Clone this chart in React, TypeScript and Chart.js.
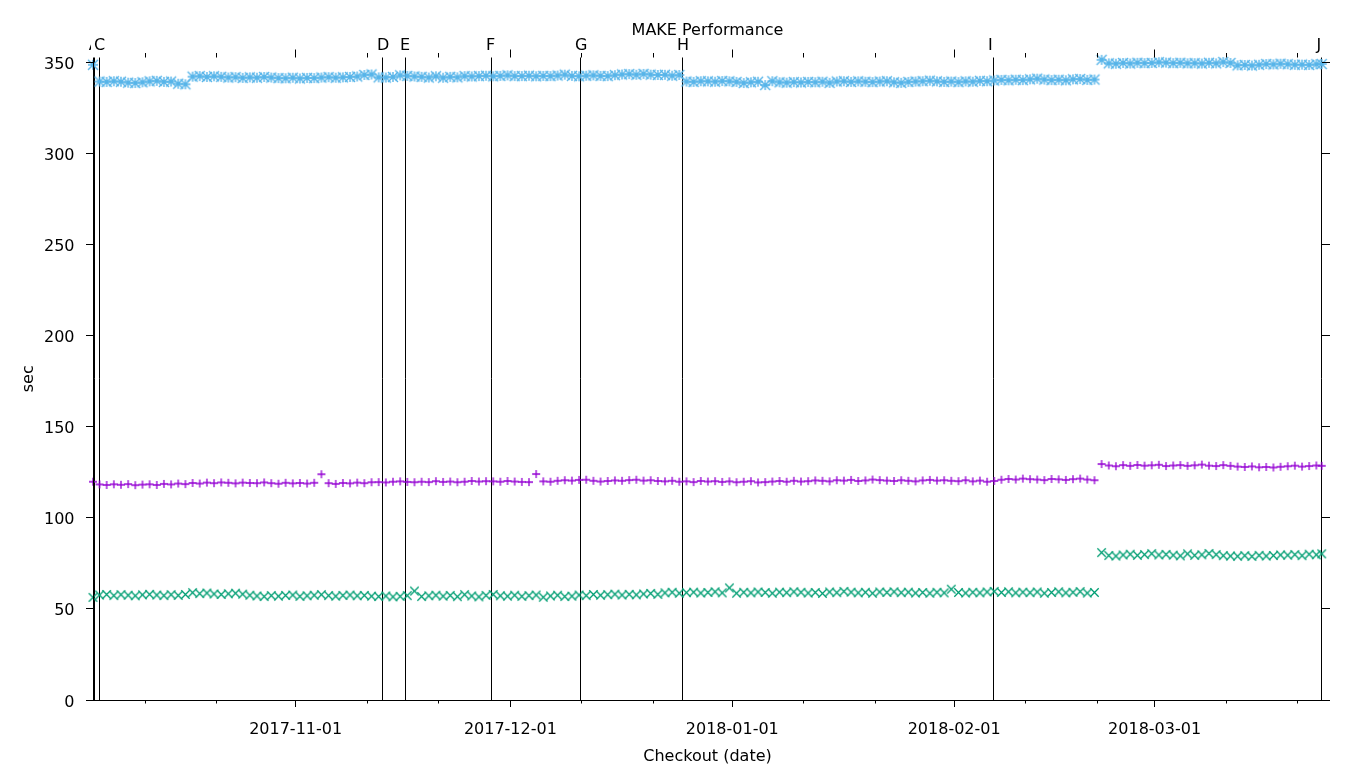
import React, { useEffect, useRef } from "react";
import { Chart, registerables } from "chart.js";

Chart.register(...registerables);

// ---------- text ----------
const TITLE = "MAKE Performance";
const X_TITLE = "Checkout (date)";
const Y_TITLE = "sec";
const FONT = '16px "DejaVu Sans"';

// ---------- axes ----------
const EPOCH = Date.UTC(2017, 9, 1); // day 0 = 2017-10-01
const X_MIN = 2.69; // first checkout (day offset)
const X_MAX = 174.39; // last checkout (day offset)
const Y_MIN = 0;
const Y_MAX = 352.6;
const yTickValues = [0, 50, 100, 150, 200, 250, 300, 350];
const majorTickDates = ["2017-11-01", "2017-12-01", "2018-01-01", "2018-02-01", "2018-03-01"];
const minorTickDates = [
  "2017-10-11", "2017-10-21", "2017-11-11", "2017-11-21", "2017-12-11", "2017-12-21",
  "2018-01-11", "2018-01-21", "2018-02-11", "2018-02-21", "2018-03-11", "2018-03-21",
];

// ---------- release markers ----------
const releaseLabels = ["A", "C", "D", "E", "F", "G", "H", "I", "J"];
const releaseDays = [2.83, 3.57, 43.11, 46.32, 58.34, 70.77, 85.02, 128.47, 174.35];

// ---------- checkouts ----------
const firstCheckoutDay = 2.69;
const dailyStartDay = 3.6;
const lastCheckoutDay = 174.35;

// values: first checkout, 171 daily checkouts, last checkout
const seriesBlue = [
  348.6,
  339.4, 339.2, 339.6, 339.3,
  338.8, 338.6, 339.0,
  339.5, 339.8, 339.2, 339.4,
  338.2, 337.9,
  342.1, 342.4, 341.9, 342.3, 342.0,
  341.6, 341.8, 341.4, 341.7, 341.5, 341.9, 341.6,
  341.3, 341.2, 341.5, 341.1, 341.4, 341.3,
  341.6, 341.8, 341.5, 341.7, 341.9, 342.2,
  343.0, 343.3,
  341.7, 341.6, 341.9, 342.8,
  342.5, 342.2, 342.0, 341.6, 342.3,
  341.5, 342.0, 341.7, 342.4, 342.2,
  342.4, 342.6, 342.3, 342.5, 342.8, 342.4,
  342.4, 342.6, 342.3, 342.5, 342.4, 342.7, 343.2, 342.5,
  342.3, 342.6, 342.8, 342.5, 342.4, 342.9,
  343.3, 343.5, 343.1, 343.6, 343.2, 343.0,
  343.1, 342.6, 343.0,
  339.4, 339.2, 339.6, 339.5, 339.3, 339.7, 339.5,
  339.2, 338.6, 339.0, 339.3, 337.5, 339.6,
  339.0, 338.8, 339.1, 338.9, 339.2, 339.0, 339.3, 338.7,
  339.4, 339.6, 339.2, 339.5, 339.3, 339.1, 339.4, 339.6, 339.0,
  338.7, 339.2, 339.4, 339.6, 339.9, 339.5, 339.2, 339.4,
  339.1, 339.5, 339.3, 339.8, 339.6, 340.0,
  340.3, 340.1, 340.4, 340.2, 340.6, 341.0,
  340.5, 340.2, 340.4, 340.1, 340.6, 340.8, 340.3, 340.5,
  351.3,
  349.4, 349.2, 349.6, 349.3, 349.7, 349.5,
  349.6, 350.0, 349.8, 349.5, 349.7, 349.4,
  349.5, 349.3, 349.7, 349.4, 350.1, 349.6,
  348.3, 348.5, 348.2, 348.6,
  349.0, 348.8, 349.2, 348.9, 348.6,
  348.7, 348.5, 348.9,
  349.0,
];

const seriesPurple = [
  119.8,
  118.3, 118.0, 118.4, 118.1, 118.5, 117.9, 118.2, 118.4, 118.0, 118.6, 118.3, 118.8,
  118.5, 119.1, 118.8, 119.3, 119.0, 119.4, 119.2, 118.9, 119.3, 119.1, 119.0, 119.4,
  119.0, 118.7, 119.2, 118.9, 119.1, 118.8, 119.2,
  123.9,
  119.0, 118.6, 119.1, 118.9, 119.3, 119.0, 119.5,
  119.6, 119.4, 119.8, 120.0, 119.7, 119.5,
  119.8, 119.6, 120.1, 119.7, 119.9, 119.5, 119.8, 120.2, 119.9, 120.1,
  120.0, 119.8, 120.2, 119.9, 119.7, 119.6,
  124.0,
  120.0, 119.8, 120.3, 120.6, 120.4, 120.8,
  120.9, 120.3, 119.9, 120.2, 120.5, 120.3, 120.7, 120.9, 120.4, 120.6, 120.2, 120.0, 120.3,
  119.8, 120.0, 119.6, 120.2, 119.9, 120.1, 119.7, 120.0, 119.5, 119.8,
  120.1, 119.4, 119.6, 119.9, 120.2, 119.8, 120.3, 119.9, 120.1, 120.5,
  120.3, 120.0, 120.6, 120.4, 120.8, 120.2, 120.5, 121.0, 120.7, 120.4,
  120.2, 120.6, 120.3, 120.0, 120.5, 120.8, 120.4, 120.6, 120.3, 120.1,
  120.6, 120.0, 120.4, 119.8, 120.2, 120.9, 121.3, 121.0, 121.5, 121.2,
  121.0, 120.7, 121.3, 121.1, 120.8, 121.2, 121.5, 121.0, 120.6,
  129.5,
  128.7, 128.3, 128.9, 128.5, 129.0, 128.6, 128.8, 129.1, 128.4, 128.7, 128.9, 128.5,
  128.8, 129.2, 128.6, 128.4, 128.9, 128.5,
  128.1, 127.9, 128.2, 127.7, 127.9, 127.6, 128.0,
  128.3, 128.6, 128.1, 128.4, 128.7,
  128.5,
];

const seriesGreen = [
  56.3,
  57.6, 57.9, 57.3, 57.8, 57.5, 57.2, 57.7, 58.0, 57.6, 57.3, 57.8, 57.4, 57.9,
  58.9, 58.4, 58.7, 58.2, 57.9, 58.3, 58.6, 58.1,
  57.5, 57.1, 56.8, 57.3, 57.0, 57.4, 57.6, 56.9, 57.2, 57.5,
  57.8, 57.3, 57.0, 57.4, 57.6, 57.2, 57.4, 57.0, 56.8,
  57.1, 56.6, 56.9, 57.3, 59.8, 56.8, 57.2, 57.5, 57.0,
  57.4, 56.7, 57.8, 57.1, 56.6, 57.4, 57.9, 57.2, 57.0, 57.5,
  56.9, 57.3, 57.6, 56.4, 57.1, 57.5, 56.8, 57.0, 57.6,
  57.3, 57.9, 57.5, 57.8, 58.1, 57.6, 58.0, 57.7,
  58.2, 58.5, 58.0, 58.8, 59.1, 58.6,
  58.9, 59.2, 58.7, 59.0, 59.4, 58.8, 61.5, 58.6, 59.1,
  58.8, 59.3, 59.0, 58.6, 59.2, 58.9, 59.4, 59.1, 58.7, 59.0,
  58.5, 59.3, 58.9, 59.6, 59.2, 58.8, 59.1, 58.6, 59.3, 59.0,
  59.4, 58.9, 59.2, 58.7, 59.0, 58.6, 59.1, 58.8, 60.8, 59.0,
  58.7, 59.1, 58.8, 59.3, 59.6, 59.0, 59.4, 58.8, 59.2, 58.9,
  59.3, 58.6, 59.0, 59.4, 58.8, 59.1, 59.5, 58.7, 59.0,
  80.9,
  79.3, 79.0, 79.6, 80.0, 79.4, 79.8, 80.3, 79.6, 79.9, 79.5,
  79.1, 80.2, 79.4, 79.7, 80.4, 79.8, 79.2, 79.0,
  78.9, 79.2, 78.8, 79.4, 79.0, 79.3, 79.6,
  79.5, 79.8, 79.2, 80.0, 79.7,
  80.2,
];

const dayOf = (s: string) => (Date.parse(s + "T00:00:00Z") - EPOCH) / 86400000;

// x of each checkout: first, consecutive days, last
const checkoutDays: number[] = [firstCheckoutDay];
for (let i = 0; i < seriesBlue.length - 2; i++) checkoutDays.push(dailyStartDay + i);
checkoutDays.push(lastCheckoutDay);

const toPoints = (vals: number[]) => vals.map((v, i) => ({ x: checkoutDays[i], y: v }));

const crisp = (v: number) => Math.floor(v) + 0.5;

// gnuplot-like point glyphs drawn on small canvases
function makeMarker(kind: "plus" | "cross" | "star", color: string, half: number, lw: number) {
  const size = Math.ceil(half * 2 + 4);
  const c = document.createElement("canvas");
  c.width = size;
  c.height = size;
  const g = c.getContext("2d")!;
  const m = size / 2;
  g.strokeStyle = color;
  g.lineWidth = lw;
  g.lineCap = "butt";
  g.beginPath();
  if (kind === "plus" || kind === "star") {
    g.moveTo(m - half, m);
    g.lineTo(m + half, m);
    g.moveTo(m, m - half);
    g.lineTo(m, m + half);
  }
  if (kind === "cross" || kind === "star") {
    g.moveTo(m - half, m - half);
    g.lineTo(m + half, m + half);
    g.moveTo(m - half, m + half);
    g.lineTo(m + half, m - half);
  }
  g.stroke();
  return c;
}

const decoPlugin = {
  id: "gnuplotDeco",
  beforeDatasetsDraw(chart: any) {
    const { ctx, chartArea, scales } = chart;
    ctx.save();
    ctx.strokeStyle = "#000";
    ctx.lineWidth = 1;
    releaseDays.forEach((d) => {
      const px = crisp(scales.x.getPixelForValue(d));
      ctx.beginPath();
      ctx.moveTo(px, chartArea.top);
      ctx.lineTo(px, chartArea.bottom);
      ctx.stroke();
    });
    ctx.restore();
  },
  afterDraw(chart: any) {
    const { ctx, chartArea, scales } = chart;
    const { left, right, top, bottom } = chartArea;
    const xs = scales.x;
    const ys = scales.y;
    ctx.save();
    ctx.strokeStyle = "#000";
    ctx.fillStyle = "#000";
    ctx.lineWidth = 1;
    ctx.font = FONT;

    // release labels (opaque boxes)
    ctx.textAlign = "left";
    ctx.textBaseline = "alphabetic";
    releaseLabels.forEach((lab, i) => {
      const px = xs.getPixelForValue(releaseDays[i]);
      const tx = px - 5.3;
      const w = ctx.measureText(lab).width;
      ctx.fillStyle = "#fff";
      ctx.fillRect(tx - 3, 36, w + 6, 16);
      ctx.fillStyle = "#000";
      ctx.fillText(lab, tx, 50);
    });

    // axis lines
    ctx.beginPath();
    ctx.moveTo(crisp(left), top);
    ctx.lineTo(crisp(left), bottom + 0.5);
    ctx.moveTo(left, crisp(bottom));
    ctx.lineTo(right + 7, crisp(bottom));
    ctx.stroke();

    // y ticks (outward, left and right)
    ctx.beginPath();
    yTickValues.forEach((v) => {
      const py = crisp(ys.getPixelForValue(v));
      ctx.moveTo(left - 7, py);
      ctx.lineTo(left, py);
      ctx.moveTo(right, py);
      ctx.lineTo(right + 8, py);
    });
    // x ticks (outward, bottom and top)
    majorTickDates.forEach((s) => {
      const px = crisp(xs.getPixelForValue(dayOf(s)));
      ctx.moveTo(px, bottom);
      ctx.lineTo(px, bottom + 7);
      ctx.moveTo(px, top);
      ctx.lineTo(px, top - 8);
    });
    minorTickDates.forEach((s) => {
      const px = crisp(xs.getPixelForValue(dayOf(s)));
      ctx.moveTo(px, bottom);
      ctx.lineTo(px, bottom + 3.5);
      ctx.moveTo(px, top);
      ctx.lineTo(px, top - 4.5);
    });
    ctx.stroke();

    // y tick labels
    ctx.textAlign = "right";
    yTickValues.forEach((v) => {
      ctx.fillText(String(v), 74.5, ys.getPixelForValue(v) + 6.5);
    });
    // x tick labels
    ctx.textAlign = "center";
    majorTickDates.forEach((s) => {
      ctx.fillText(s, xs.getPixelForValue(dayOf(s)), 734);
    });

    // titles
    const cx = (left + right) / 2;
    ctx.fillText(TITLE, cx, 35);
    ctx.fillText(X_TITLE, cx, 761);
    ctx.save();
    ctx.translate(32.5, (top + bottom) / 2);
    ctx.rotate(-Math.PI / 2);
    ctx.fillText(Y_TITLE, 0, 0);
    ctx.restore();

    ctx.restore();
  },
};

const hiddenScale = (extra: any) => ({
  type: "linear",
  grid: { display: false, drawTicks: false },
  border: { display: false },
  ticks: { display: false },
  ...extra,
});

export default function App() {
  const ref = useRef<HTMLCanvasElement | null>(null);
  useEffect(() => {
    if (!ref.current) return;
    const blueMarker = makeMarker("star", "#56B4E9", 5, 1.4);
    const purpleMarker = makeMarker("plus", "#9400D3", 4, 1.3);
    const greenMarker = makeMarker("cross", "#009E73", 4.2, 1.3);
    const chart = new Chart(ref.current, {
      type: "scatter",
      data: {
        datasets: [
          {
            label: "blue",
            data: toPoints(seriesBlue),
            pointStyle: blueMarker,
            radius: 5,
            borderColor: "#56B4E9",
            backgroundColor: "#56B4E9",
            clip: false,
          },
          {
            label: "purple",
            data: toPoints(seriesPurple),
            pointStyle: purpleMarker,
            radius: 4,
            borderColor: "#9400D3",
            backgroundColor: "#9400D3",
            clip: false,
          },
          {
            label: "green",
            data: toPoints(seriesGreen),
            pointStyle: greenMarker,
            radius: 5,
            borderColor: "#009E73",
            backgroundColor: "#009E73",
            clip: false,
          },
        ] as any,
      },
      options: {
        animation: false,
        responsive: false,
        devicePixelRatio: 1,
        layout: { padding: 0 },
        plugins: {
          legend: { display: false },
          tooltip: { enabled: false },
          title: { display: false },
        },
        events: [],
        scales: {
          x: hiddenScale({ position: "bottom", min: X_MIN, max: X_MAX, afterFit: (s: any) => { s.height = 68; } }),
          xTop: hiddenScale({ position: "top", min: X_MIN, max: X_MAX, afterFit: (s: any) => { s.height = 57.5; } }),
          y: hiddenScale({ position: "left", min: Y_MIN, max: Y_MAX, afterFit: (s: any) => { s.width = 93; } }),
          yRight: hiddenScale({ position: "right", min: Y_MIN, max: Y_MAX, afterFit: (s: any) => { s.width = 38; } }),
        } as any,
      },
      plugins: [decoPlugin],
    });
    return () => chart.destroy();
  }, []);
  return (
    <div style={{ position: "fixed", left: 0, top: 0, width: 1360, height: 768, background: "#fff" }}>
      <canvas ref={ref} width={1360} height={768} style={{ display: "block" }} />
    </div>
  );
}
